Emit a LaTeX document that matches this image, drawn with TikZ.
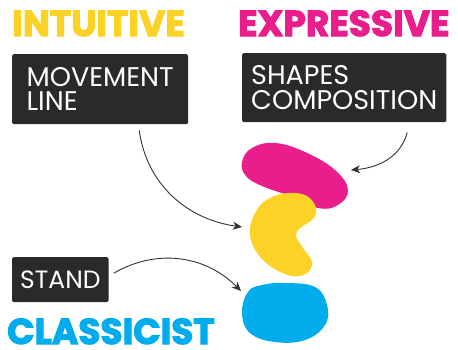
\documentclass[tikz,border=0pt]{standalone}
\usepackage{fontspec}
\setmainfont{Poppins}
\newfontfamily\headfont{Poppins Bold}[FakeBold=3]
\usetikzlibrary{arrows.meta}
\definecolor{intuitivecolor}{RGB}{252,210,38}
\definecolor{expressivecolor}{RGB}{233,30,140}
\definecolor{classicistcolor}{RGB}{0,172,236}
\definecolor{boxcolor}{RGB}{43,42,41}
\definecolor{arrowcolor}{RGB}{50,50,50}

\begin{document}
\begin{tikzpicture}[
    x=1pt, y=-1pt,
    heading/.style={anchor=base west, inner sep=0pt, text depth=0pt, font=\headfont\fontsize{36}{36}\selectfont},
    tag/.style={fill=boxcolor, text=white, rounded corners=1.5pt, anchor=north west, align=left, inner ysep=0pt, font=\fontsize{27}{24.5}\selectfont},
    arrow/.style={-{Stealth[length=9pt, width=8pt, inset=2.5pt]}, draw=arrowcolor, line width=0.9pt}
]
    \useasboundingbox (0,0) rectangle (458,349);

    % headings
    \node[heading, text=intuitivecolor] (intuitive) at (12,36) {INTUITIVE};
    \node[heading, text=expressivecolor] (expressive) at (238,36) {EXPRESSIVE};
    \node[heading, text=classicistcolor] (classicist) at (7,344) {CLASSICIST};

    % labels
    \node[tag, minimum width=176pt, minimum height=70pt, inner xsep=12pt] (movement) at (12,54) {MOVEMENT\\LINE};
    \node[tag, minimum height=69pt, inner xsep=9pt] (shapes) at (242,53) {SHAPES\\COMPOSITION};
    \node[tag, minimum height=45pt, inner xsep=8pt, font=\fontsize{25}{25}\selectfont] (stand) at (12,257) {STAND};

    % blobs
    \fill[expressivecolor] plot[smooth cycle, tension=0.7] coordinates {
        (242,162) (252,148) (275,143) (305,152) (335,170) (348,190)
        (338,205) (318,208) (290,196) (262,186) (246,176)};
    \fill[intuitivecolor] plot[smooth cycle, tension=0.6] coordinates {
        (287,193) (305,195) (315,205) (314,218) (300,228) (296,236)
        (303,248) (312,262) (307,273) (292,276) (270,266) (254,248)
        (250,228) (258,208) (270,198)};
    \fill[classicistcolor] plot[smooth cycle, tension=0.7] coordinates {
        (285,283) (315,287) (327,305) (325,325) (305,340) (275,342)
        (250,333) (242,313) (248,292) (262,285)};

    \coordinate (yellowtip) at (242,227);
    \coordinate (magentatip) at (351,170);
    \coordinate (bluetip) at (241,291);

    \draw[arrow] ([xshift=39pt, yshift=-6pt]movement.south) to[out=-82, in=172] (yellowtip);
    \draw[arrow] ([xshift=63pt, yshift=-10pt]shapes.south) to[out=-105, in=5] (magentatip);
    \draw[arrow] ([xshift=5pt, yshift=6.5pt]stand.east) to[out=30, in=135] (bluetip);
\end{tikzpicture}
\end{document}
